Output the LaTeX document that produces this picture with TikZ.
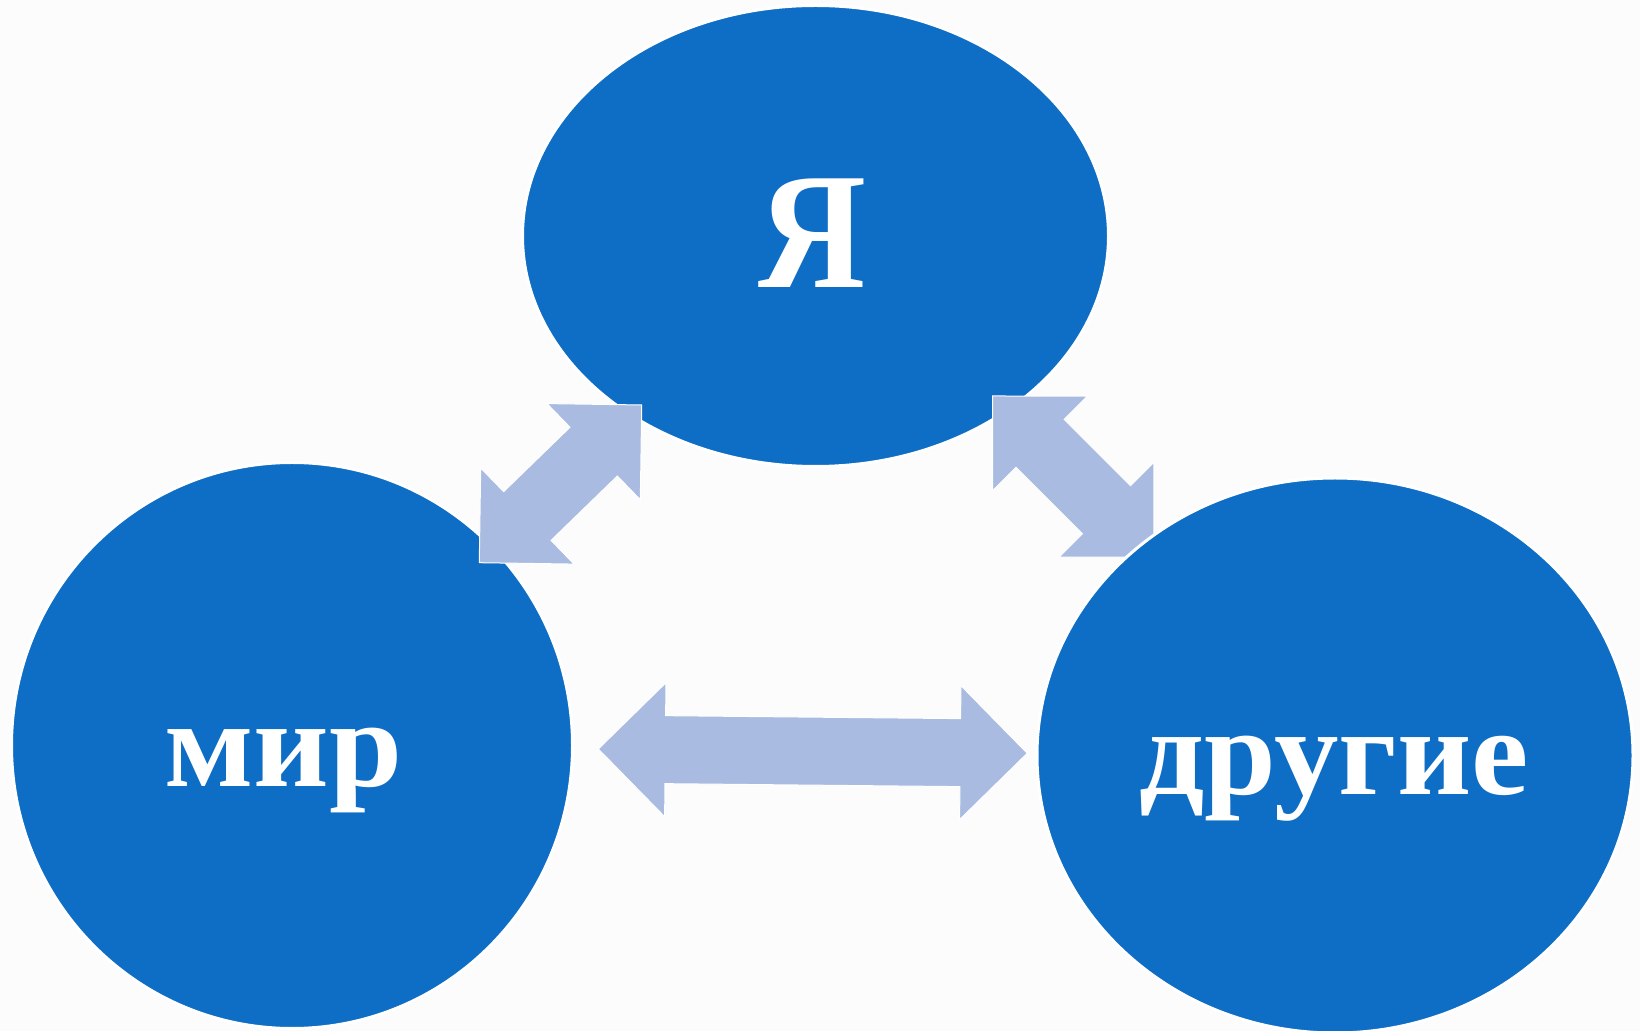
\documentclass[tikz,border=0pt]{standalone}
\usepackage{graphicx}
\usepackage{fontspec}
\setmainfont{Liberation Serif}
\usetikzlibrary{shapes.geometric}
\definecolor{blobblue}{HTML}{0E6DC4}
\definecolor{arrowblue}{HTML}{A9BBE0}
\definecolor{bggray}{RGB}{252,252,252}
\newcommand\dblarrow[3]{%
  \begin{scope}[shift={#1}, rotate=#2]
    \path[blockarrow] (0,0) -- (67,-67) -- (67,-34) -- ({#3-67},-34) -- ({#3-67},-67)
      -- (#3,0) -- ({#3-67},67) -- ({#3-67},34) -- (67,34) -- (67,67) -- cycle;
  \end{scope}}
\begin{document}
\begin{tikzpicture}[x=0.5pt,y=-0.5pt,
  blob/.style={ellipse, fill=blobblue, draw=white, line width=1.5pt, inner sep=0pt, outer sep=0pt},
  blobtext/.style={text=white, anchor=base, inner sep=0pt},
  bigfont/.style={font=\bfseries\fontsize{83}{90}\selectfont},
  midfont/.style={font=\bfseries\fontsize{62}{70}\selectfont},
  blockarrow/.style={fill=arrowblue, draw=white, line width=0.5pt, line join=miter}]
\fill[bggray] (0,0) rectangle (1640,1031);
\useasboundingbox (0,0) rectangle (1640,1031);

% top ellipse
\node[blob, minimum width=293pt, minimum height=230.5pt] (ya) at (815.5,236) {};
\node[blobtext, bigfont] (yatext) at (812,288) {\scalebox{0.9}[1]{Я}};

% left ellipse
\node[blob, minimum width=280.5pt, minimum height=283pt] (mir) at (292,745.5) {};
\node[blobtext, midfont] (mirtext) at (283.5,787) {\scalebox{1.06}[1]{мир}};

% arrow tips
\coordinate (tlA) at (479.3,562.7);
\coordinate (trA) at (992.7,396);
\coordinate (btA) at (598.3,749);

\dblarrow{(tlA)}{44.16}{226.4}
\dblarrow{(trA)}{-45.02}{227.9}
\dblarrow{(btA)}{-0.574}{429}

% right ellipse
\node[blob, minimum width=298pt, minimum height=277.5pt] (drugie) at (1335,755.5) {};
\node[blobtext, midfont] (drugietext) at (1334,795) {\scalebox{1.04}[1]{другие}};
\end{tikzpicture}
\end{document}
